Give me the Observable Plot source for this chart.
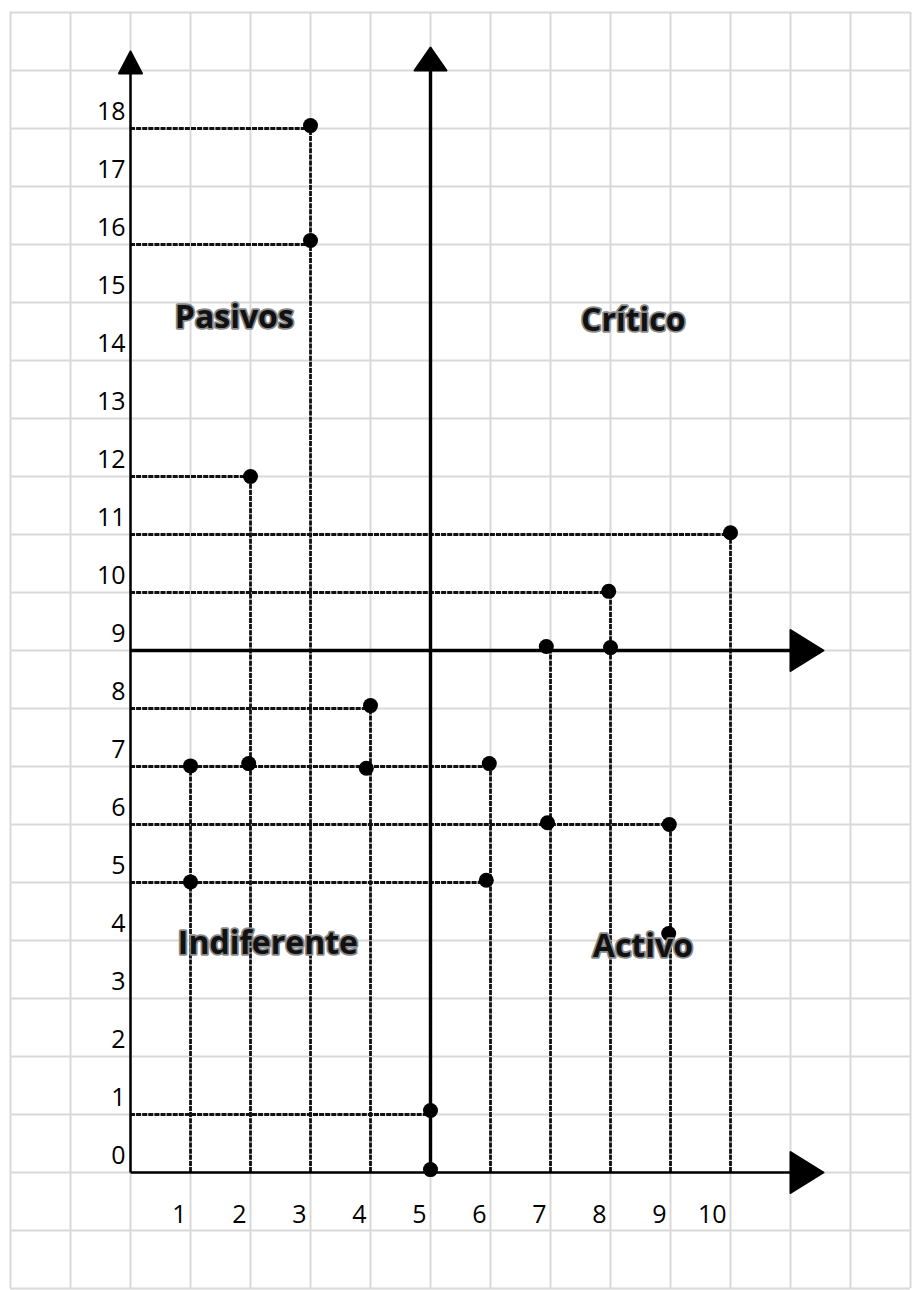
<!DOCTYPE html>
<html>
<head>
<meta charset="utf-8">
<script src="https://cdn.jsdelivr.net/npm/d3@7"></script>
<script src="https://cdn.jsdelivr.net/npm/@observablehq/plot@0.6"></script>
<style>
html, body { margin: 0; padding: 0; background: #ffffff; }
#chart svg { display: block; }
</style>
</head>
<body>
<div id="chart"></div>
<script>
// ---- data ----
const gridXValues = [-2, -1, 0, 1, 2, 3, 4, 5, 6, 7, 8, 9, 10, 11, 12, 13];
const gridYValues = [-2, -1, 0, 1, 2, 3, 4, 5, 6, 7, 8, 9, 10, 11, 12, 13, 14, 15, 16, 17, 18, 19, 20];
const yTickLabels = [0, 1, 2, 3, 4, 5, 6, 7, 8, 9, 10, 11, 12, 13, 14, 15, 16, 17, 18];
const xTickLabels = [1, 2, 3, 4, 5, 6, 7, 8, 9, 10];

const pointX = [3, 3, 2, 10, 7.97, 6.93, 8, 4, 1, 1.97, 3.93, 5.98, 6.95, 8.98, 1, 5.93, 8.97, 5, 5];
const pointY = [18.05, 16.07, 12, 11.03, 10.02, 9.07, 9.05, 8.05, 7.01, 7.05, 6.97, 7.05, 6.03, 6, 5.01, 5.04, 4.12, 1.07, 0.05];

const hLineY    = [18, 16, 12, 11, 10, 8, 7, 6, 5, 1];
const hLineXEnd = [3, 3, 2, 10, 8, 4, 6, 9, 6, 5];
const vLineX    = [1, 2, 3, 4, 6, 7, 8, 9, 10];
const vLineYTop = [7, 12, 18, 8, 7, 9, 10, 6, 11];

const outerAxisX1 = [0, 0];
const outerAxisY1 = [0, 0];
const outerAxisX2 = [0, 11];
const outerAxisY2 = [19, 0];
const innerAxisX1 = [5, 0];
const innerAxisY1 = [0, 9];
const innerAxisX2 = [5, 11];
const innerAxisY2 = [19, 9];

const quadLabels = ["Pasivos", "Crítico", "Indiferente", "Activo"];
const quadX = [1.73, 8.38, 2.29, 8.54];
const quadY = [14.74, 14.69, 3.95, 3.9];

// ---- derived tables ----
const points = pointX.map((x, i) => ({x, y: pointY[i]}));
const hLines = hLineY.map((y, i) => ({y, x2: hLineXEnd[i]}));
const vLines = vLineX.map((x, i) => ({x, y2: vLineYTop[i]}));
const outerAxes = outerAxisX1.map((x1, i) => ({x1, y1: outerAxisY1[i], x2: outerAxisX2[i], y2: outerAxisY2[i]}));
const innerAxes = innerAxisX1.map((x1, i) => ({x1, y1: innerAxisY1[i], x2: innerAxisX2[i], y2: innerAxisY2[i]}));
const allAxes = outerAxes.concat(innerAxes);
const quads = quadLabels.map((t, i) => ({t, x: quadX[i], y: quadY[i]}));

// arrowhead symbols (drawn relative to the axis end point)
const upSmall = {draw(c) { c.moveTo(-11.5, 3); c.lineTo(0, -19); c.lineTo(11.5, 3); c.closePath(); }};
const upWide  = {draw(c) { c.moveTo(-16, 0); c.lineTo(0, -23); c.lineTo(16, 0); c.closePath(); }};
const right   = {draw(c) { c.moveTo(0, -20.5); c.lineTo(33, 0); c.lineTo(0, 20.5); c.closePath(); }};

const dashStyle = {stroke: "#111111", strokeWidth: 2.8, strokeDasharray: "5,1.1"};

const chart = Plot.plot({
  width: 914,
  height: 1290,
  marginLeft: 10,
  marginRight: 4,
  marginTop: 12,
  marginBottom: 2,
  x: {domain: [-2, 13], axis: null},
  y: {domain: [-2, 20], axis: null},
  style: {background: "#ffffff", fontFamily: "'Open Sans', sans-serif", overflow: "visible"},
  marks: [
    Plot.ruleX(gridXValues, {x: d => d, y1: () => -2, y2: () => 20, stroke: "#d9d9d9", strokeWidth: 2}),
    Plot.ruleY(gridYValues, {y: d => d, x1: () => -2, x2: () => 13, stroke: "#d9d9d9", strokeWidth: 2}),
    Plot.ruleY(hLines, {y: "y", x1: () => 0, x2: "x2", ...dashStyle}),
    Plot.ruleX(vLines, {x: "x", y1: () => 0, y2: "y2", ...dashStyle}),
    Plot.link(outerAxes, {x1: "x1", y1: "y1", x2: "x2", y2: "y2", stroke: "black", strokeWidth: 2.5}),
    Plot.link(innerAxes, {x1: "x1", y1: "y1", x2: "x2", y2: "y2", stroke: "black", strokeWidth: 3.4}),
    Plot.dot(points, {x: "x", y: "y", r: 7.5, fill: "black", stroke: "none"}),
    Plot.dot(outerAxes.filter(d => d.x1 === d.x2), {x: "x2", y: "y2", symbol: upSmall, fill: "black", stroke: "black", strokeWidth: 2, strokeLinejoin: "round"}),
    Plot.dot(innerAxes.filter(d => d.x1 === d.x2), {x: "x2", y: "y2", symbol: upWide, fill: "black", stroke: "black", strokeWidth: 2, strokeLinejoin: "round"}),
    Plot.dot(allAxes.filter(d => d.y1 === d.y2), {x: "x2", y: "y2", symbol: right, fill: "black", stroke: "black", strokeWidth: 2, strokeLinejoin: "round"}),
    Plot.text(yTickLabels, {x: () => 0, y: d => d, text: d => String(d), textAnchor: "end", lineAnchor: "bottom", dx: -5, dy: -9, fontSize: 25, fill: "black"}),
    Plot.text(xTickLabels, {x: d => d, y: () => 0, text: d => String(d), textAnchor: "end", lineAnchor: "bottom", dx: -4, dy: 50, fontSize: 25, fill: "black"}),
    Plot.text(quads, {x: "x", y: "y", text: "t", textAnchor: "middle", lineAnchor: "middle", fontSize: 32, fontWeight: "bold", fill: "#111", stroke: "#8a8a8a", strokeWidth: 3.5, strokeLinejoin: "round", paintOrder: "stroke", ariaLabel: "quadrant-labels"})
  ]
});
const quadGroup = chart.querySelector('g[aria-label="quadrant-labels"]');
if (quadGroup) quadGroup.setAttribute("letter-spacing", "1");
document.getElementById("chart").appendChild(chart);
</script>
</body>
</html>
